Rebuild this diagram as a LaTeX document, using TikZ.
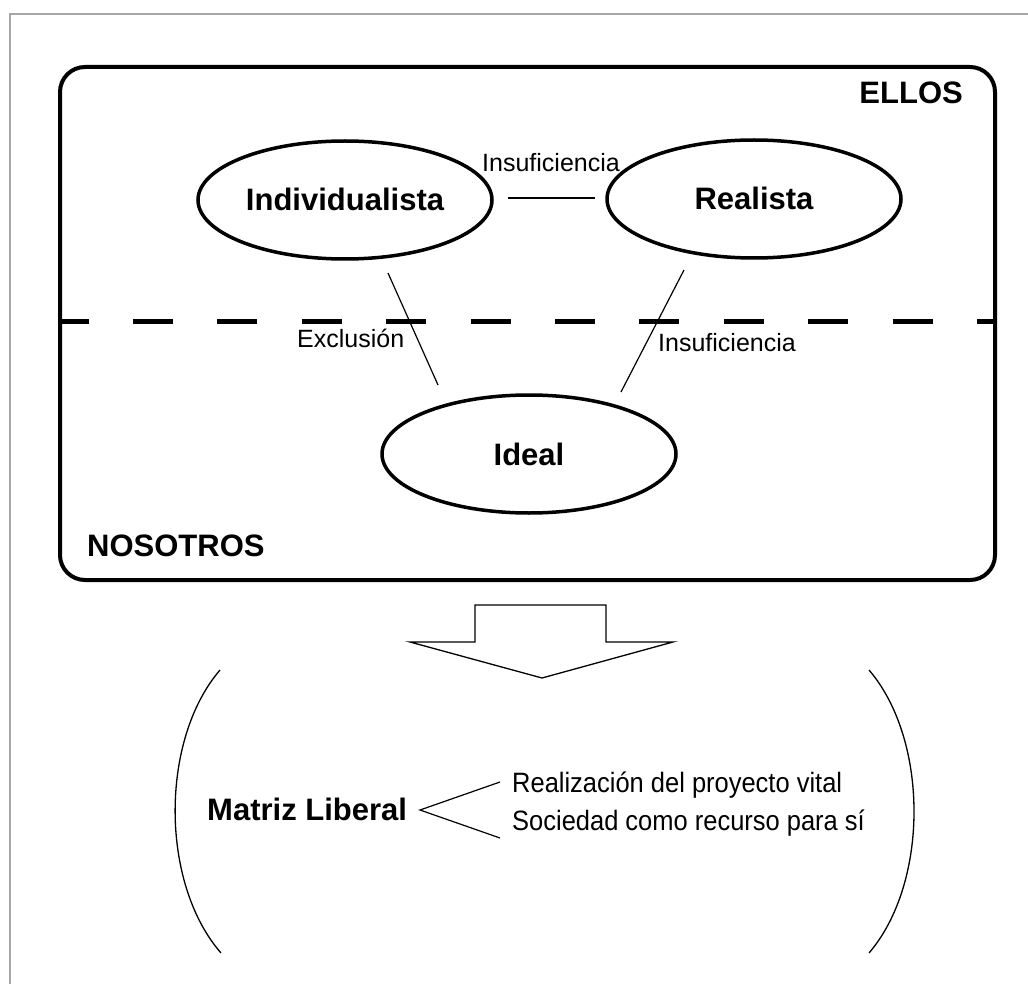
\documentclass[tikz,border=0pt]{standalone}
\usepackage{fontspec}
\setmainfont{Liberation Sans}
\newfontfamily\narrowsans[FakeStretch=0.91]{Liberation Sans}
\usetikzlibrary{shapes.geometric}
\begin{document}
\begin{tikzpicture}[x=1pt,y=-1pt,
  oval/.style={draw, ellipse, line width=3.5pt, minimum width=294pt, minimum height=118pt,
    inner sep=0pt, text height=22pt, text depth=0pt, font=\fontsize{31}{36}\selectfont\bfseries},
  tag/.style={inner sep=0pt, font=\fontsize{31}{36}\selectfont\bfseries},
  rel/.style={inner sep=0pt, font=\fontsize{25}{30}\selectfont},
  item/.style={inner sep=0pt, font=\narrowsans\fontsize{28}{32}\selectfont},
  conn/.style={line width=1.2pt},
  thinline/.style={line width=1.3pt}]
\useasboundingbox (0,0) rectangle (1028,984);
\fill[white] (0,0) rectangle (1028,984);
% outer frame
\draw[gray!70, line width=1.5pt] (10,984) -- (10,14) -- (1028,14);
% container
\node[draw, line width=4pt, rounded corners=25pt, minimum width=935pt, minimum height=513pt, inner sep=0pt] (frame) at (527.5,323.5) {};
\coordinate (dl) at (60,322);
\coordinate (dr) at (995,322);
\draw[line width=5pt, dash pattern=on 40pt off 44.4pt, dash phase=11.4pt] (dl) -- (dr);
% ellipses
\node[oval] (ind) at (345,200) {Individualista};
\node[oval] (real) at (754,199) {Realista};
\node[oval] (ideal) at (529,454) {Ideal};
% labels
\node[tag, anchor=base east] (ellos) at (963,104) {ELLOS};
\node[tag, anchor=base west] (nos) at (87,556) {NOSOTROS};
\node[rel, anchor=base west] (ins1) at (482,172) {Insuficiencia};
\node[rel, anchor=base west] (exc) at (297,348) {Exclusión};
\node[rel, anchor=base west] (ins2) at (658,352) {Insuficiencia};
% connectors
\draw[conn] ([xshift=14pt,yshift=2pt]ind.east) -- ([xshift=-10pt,yshift=1pt]real.west);
\coordinate (x1) at (388,273);
\coordinate (x2) at (438,385);
\coordinate (i1) at (684,270);
\coordinate (i2) at (621,392);
\draw[conn] (x1) -- (x2);
\draw[conn] (i1) -- (i2);
% block arrow
\draw[thinline, line join=miter] (475,605) -- (606,605) -- (606,642) -- (673,642) -- (542,678) -- (410,642) -- (475,642) -- cycle;
% parentheses
\draw[thinline] (220,670) .. controls (160,740) and (160,883) .. (221,953);
\draw[thinline] (869,670) .. controls (929,740) and (929,883) .. (869,953);
% matrix
\node[tag, anchor=base west] (ml) at (207,820) {Matriz Liberal};
\node[item, anchor=base west] (r1) at (512,792) {Realización del proyecto vital};
\node[item, anchor=base west] (r2) at (512,830) {Sociedad como recurso para sí};
\coordinate (mlp) at (420,810);
\coordinate (r1p) at (500,782);
\coordinate (r2p) at (500,838);
\draw[conn] (r1p) -- (mlp) -- (r2p);
\end{tikzpicture}
\end{document}
